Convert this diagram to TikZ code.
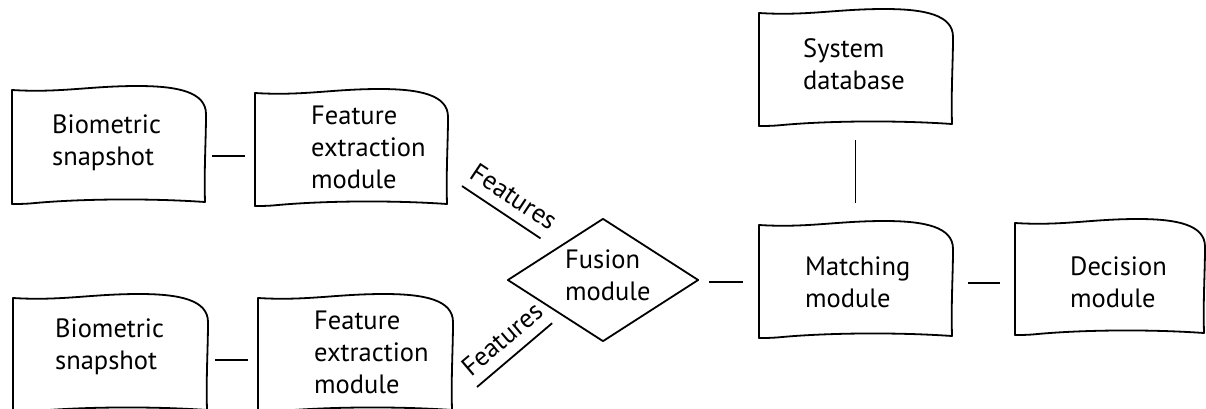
\documentclass[tikz,border=0pt]{standalone}
\usepackage{fontspec}
\setmainfont{PT Sans}
\usetikzlibrary{shapes.geometric}

\tikzset{
  x=1pt, y=-1pt,
  outline/.style={line width=1.8pt, line join=round, line cap=round, black},
  frame/.style={inner sep=0pt, outer sep=0pt},
  txt/.style={font=\fontsize{26.5}{32}\selectfont, align=left, inner sep=0pt, anchor=base west, text=black},
  link/.style={line width=1.8pt, black},
  flabel/.style={font=\fontsize{26.5}{32}\selectfont, inner sep=0pt, sloped, above=10pt, text=black},
}

% hand-drawn "document" outline around a named frame node: #1 name, #2 width, #3 height
\newcommand{\sketchbox}[3]{%
  \begin{scope}[shift={(#1.north west)}]
    \draw[outline] (0,1)
      .. controls ({0.25*#2},4) and ({0.4*#2},-3) .. ({0.65*#2},-3)
      .. controls ({0.86*#2},-3) and ({#2+1},3) .. ({#2+1},{0.22*#3})
      .. controls ({#2+1},{0.45*#3}) and ({#2-1},{0.7*#3}) .. (#2,{#3-1})
      .. controls ({0.7*#2},{#3-5}) and ({0.35*#2},{#3-4}) .. ({0.12*#2},#3)
      .. controls ({0.07*#2},{#3+1}) and ({0.03*#2},{#3+1}) .. (0,{#3+1})
      -- cycle;
  \end{scope}}

\begin{document}
\begin{tikzpicture}
\useasboundingbox (0,0) rectangle (1206,408);
\fill[white] (0,0) rectangle (1206,408);
\clip (0,0) rectangle (1206,408);

% frames of the boxes
\node[frame, minimum width=193pt, minimum height=114pt] (bio1)  at (108.5,146) {};
\node[frame, minimum width=192pt, minimum height=113pt] (feat1) at (351,148.5) {};
\node[frame, minimum width=194pt, minimum height=114pt] (bio2)  at (110,354) {};
\node[frame, minimum width=194pt, minimum height=114pt] (feat2) at (355,354) {};
\node[frame, minimum width=193pt, minimum height=113pt] (db)    at (855.5,68.5) {};
\node[frame, minimum width=193pt, minimum height=113pt] (match) at (855.5,280.5) {};
\node[frame, minimum width=189pt, minimum height=112pt] (dec)   at (1109.5,278) {};
\node[diamond, draw, outline, inner sep=0pt, aspect=1.55,
      minimum width=191pt, minimum height=123pt] (fusion) at (603,280) {};

\sketchbox{bio1}{193}{114}
\sketchbox{feat1}{192}{113}
\sketchbox{bio2}{194}{114}
\sketchbox{feat2}{194}{114}
\sketchbox{db}{193}{113}
\sketchbox{match}{193}{113}
\sketchbox{dec}{189}{112}

% box texts (anchored at the baseline of the last line)
\node[txt] (bio1t)  at ([shift={(40,76)}]bio1.north west)  {Biometric\\snapshot};
\node[txt] (feat1t) at ([shift={(56,96)}]feat1.north west) {Feature\\extraction\\module};
\node[txt] (bio2t)  at ([shift={(42,72)}]bio2.north west)  {Biometric\\snapshot};
\node[txt] (feat2t) at ([shift={(56,96)}]feat2.north west) {Feature\\extraction\\module};
\node[txt] (dbt)    at ([shift={(44,77)}]db.north west)    {System\\database};
\node[txt] (matcht) at ([shift={(46,83)}]match.north west) {Matching\\module};
\node[txt] (dect)   at ([shift={(55,85)}]dec.north west)   {Decision\\module};
\node[txt] (fusiont) at ([shift={(-38,20)}]fusion.center) {Fusion\\module};

% connector rows
\coordinate (r1) at (0,156);
\coordinate (r2) at (0,360);
\coordinate (r3) at (0,282);
\coordinate (r4) at (0,283);
\coordinate (f1) at (462,186);
\coordinate (f2) at (477,387);

\draw[link, shorten <=7pt, shorten >=10pt] (bio1.east |- r1) -- (feat1.west |- r1);
\draw[link, shorten <=8pt, shorten >=10pt] (bio2.east |- r2) -- (feat2.west |- r2);
\draw[link, shorten <=10pt, shorten >=16pt] (fusion.east |- r3) -- (match.west |- r3);
\draw[link, shorten <=16pt, shorten >=15pt] (match.east |- r4) -- (dec.west |- r4);
\draw[link, shorten <=15pt, shorten >=21pt] (db.south) -- (match.north);

\draw[link, shorten >=18pt] (f1) -- node[flabel, pos=0.44] {Features} (fusion);
\draw[link, shorten >=12pt] (f2) -- node[flabel, pos=0.457] {Features} (fusion);
\end{tikzpicture}
\end{document}
